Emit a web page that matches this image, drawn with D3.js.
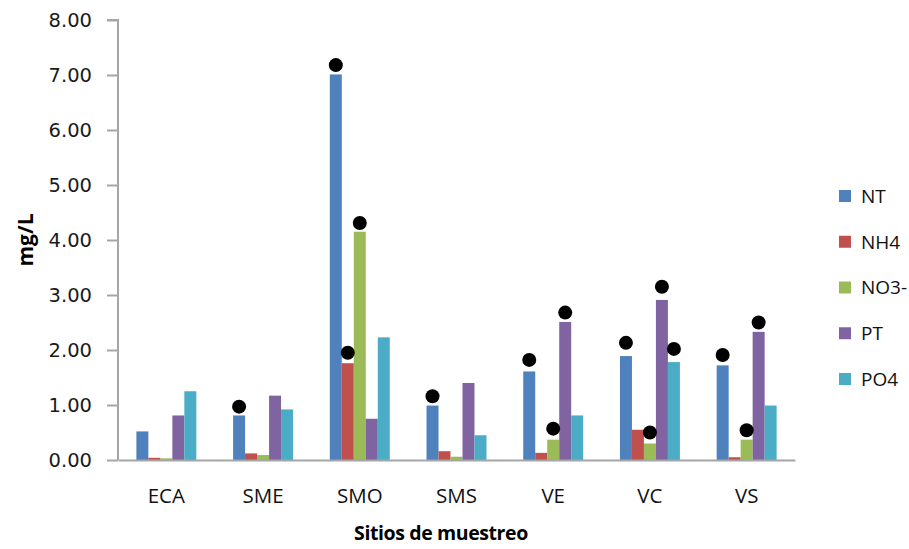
<!DOCTYPE html>
<html>
<head>
<meta charset="utf-8">
<script src="https://cdn.jsdelivr.net/npm/d3@7"></script>
<style>
  html, body { margin: 0; padding: 0; background: #fff; }
  svg { display: block; }
</style>
</head>
<body>
<svg id="chart" width="909" height="549"></svg>
<script>
// Sampling sites and nutrient series (mg/L)
const categories = ["ECA", "SME", "SMO", "SMS", "VE", "VC", "VS"];
const seriesNames = ["NT", "NH4", "NO3-", "PT", "PO4"];
const seriesColors = ["#4F81BD", "#C0504D", "#9BBB59", "#8064A2", "#4BACC6"];

const NT  = [0.52, 0.81, 7.01, 0.99, 1.61, 1.89, 1.72];
const NH4 = [0.04, 0.12, 1.76, 0.16, 0.13, 0.55, 0.05];
const NO3 = [0.03, 0.09, 4.15, 0.06, 0.37, 0.30, 0.37];
const PT  = [0.81, 1.17, 0.75, 1.40, 2.51, 2.91, 2.33];
const PO4 = [1.25, 0.92, 2.23, 0.45, 0.81, 1.78, 0.99];

// Reference markers drawn as black dots above some bars (null = no marker)
const NT_ref  = [null, 0.97, 7.18, 1.16, 1.82, 2.13, 1.91];
const NH4_ref = [null, null, 1.95, null, null, null, null];
const NO3_ref = [null, null, 4.31, null, 0.57, 0.50, 0.54];
const PT_ref  = [null, null, null, null, 2.68, 3.15, 2.50];
const PO4_ref = [null, null, null, null, null, 2.02, null];

const yTicks = [0, 1, 2, 3, 4, 5, 6, 7, 8];

const seriesValues = [NT, NH4, NO3, PT, PO4];
const seriesRefs = [NT_ref, NH4_ref, NO3_ref, PT_ref, PO4_ref];

const svg = d3.select("#chart");
const plot = { left: 118, right: 795, top: 20, bottom: 460 };

const y = d3.scaleLinear().domain([0, 8]).range([plot.bottom, plot.top]);
const x0 = d3.scaleBand().domain(categories).range([plot.left, plot.right]);
const groupW = x0.bandwidth() * 0.62;
const x1 = d3.scaleBand().domain(seriesNames).range([0, groupW]);
const groupStart = c => x0(c) + (x0.bandwidth() - groupW) / 2;

const axisColor = "#a6a6a6";

// Bars
seriesNames.forEach((s, si) => {
  svg.append("g")
    .selectAll("rect")
    .data(categories.map((c, i) => ({ c, v: seriesValues[si][i] })))
    .join("rect")
    .attr("x", d => groupStart(d.c) + x1(s))
    .attr("y", d => y(d.v))
    .attr("width", x1.bandwidth())
    .attr("height", d => y(0) - y(d.v))
    .attr("fill", seriesColors[si]);
});

// Y axis
const yAxis = d3.axisLeft(y)
  .tickValues(yTicks)
  .tickFormat(d3.format(".2f"))
  .tickSize(11)
  .tickPadding(15);

const gy = svg.append("g")
  .attr("transform", `translate(${plot.left},0)`)
  .call(yAxis);
gy.select(".domain").attr("stroke", axisColor).attr("stroke-width", 2)
  .attr("d", `M-11,${plot.top}H0V${plot.bottom}`);
gy.selectAll(".tick line").attr("stroke", axisColor).attr("stroke-width", 2);
gy.selectAll(".tick text")
  .attr("fill", "#1a1a1a")
  .style("font-family", "'DejaVu Sans', sans-serif")
  .style("font-size", "19.5px");

// X axis
const xAxis = d3.axisBottom(x0).tickSize(0).tickPadding(28);
const gx = svg.append("g")
  .attr("transform", `translate(0,${plot.bottom})`)
  .call(xAxis);
gx.select(".domain").attr("stroke", axisColor).attr("stroke-width", 2);
gx.selectAll(".tick text")
  .attr("fill", "#111")
  .style("font-family", "'Open Sans', sans-serif")
  .style("font-size", "20.5px");

// Reference dots
seriesNames.forEach((s, si) => {
  svg.append("g")
    .selectAll("circle")
    .data(categories.map((c, i) => ({ c, v: seriesRefs[si][i] })).filter(d => d.v !== null))
    .join("circle")
    .attr("cx", d => groupStart(d.c) + x1(s) + x1.bandwidth() / 2)
    .attr("cy", d => y(d.v))
    .attr("r", 7)
    .attr("fill", "#000");
});

// Axis titles
svg.append("text")
  .attr("transform", `translate(33,240) rotate(-90)`)
  .attr("text-anchor", "middle")
  .style("font-family", "'Open Sans', sans-serif")
  .style("font-size", "21px")
  .style("font-weight", "bold")
  .attr("fill", "#000")
  .text("mg/L");

svg.append("text")
  .attr("x", 441)
  .attr("y", 540)
  .attr("text-anchor", "middle")
  .style("font-family", "'Open Sans', sans-serif")
  .style("font-size", "19.5px")
  .style("font-weight", "bold")
  .style("letter-spacing", "-0.4px")
  .attr("fill", "#000")
  .text("Sitios de muestreo");

// Legend
const legend = svg.append("g").attr("transform", "translate(839,196)");
const legendItems = legend.selectAll("g")
  .data(seriesNames)
  .join("g")
  .attr("transform", (d, i) => `translate(0,${i * 45.75})`);
legendItems.append("rect")
  .attr("x", 0).attr("y", -6)
  .attr("width", 12).attr("height", 12)
  .attr("fill", (d, i) => seriesColors[i]);
legendItems.append("text")
  .attr("x", 22).attr("y", 0).attr("dy", "0.36em")
  .style("font-family", "'Open Sans', sans-serif")
  .style("font-size", "19px")
  .attr("fill", "#111")
  .text(d => d);
</script>
</body>
</html>
